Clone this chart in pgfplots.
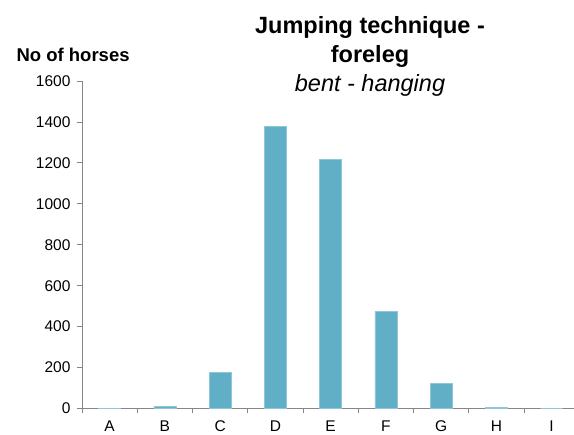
\documentclass[border=0pt]{standalone}
\usepackage{pgfplots}
\pgfplotsset{compat=1.18}
\usepackage{fontspec}
\setmainfont{Liberation Sans}
\definecolor{barcol}{RGB}{96,175,199}
\definecolor{axcol}{RGB}{134,134,134}
\begin{document}
\begin{tikzpicture}[x=1pt,y=1pt]
\begin{axis}[
  at={(82pt,26.5pt)}, anchor=south west,
  scale only axis, width=492pt, height=327.5pt,
  xmin=-0.5, xmax=8.405, ymin=0, ymax=1600,
  axis x line=bottom, axis y line=left,
  axis line style={-, draw=axcol, line width=0.8pt},
  tick style={draw=axcol, line width=0.8pt},
  tick align=outside, major tick length=5pt,
  ytick={0,200,...,1600},
  xtick={-0.5,0.5,...,7.5}, xticklabels={},
  extra x ticks={0,1,...,8},
  extra x tick labels={A,B,C,D,E,F,G,H,I},
  extra x tick style={major tick length=0pt, tick style={draw=none}},
  ticklabel style={font=\fontsize{15.5}{18}\selectfont},
  yticklabel style={xshift=-3pt},
  xticklabel style={yshift=-9pt},
  /pgf/number format/assume math mode=true,
  /pgf/number format/1000 sep={},
  ybar, bar width=22pt,
  clip=false,
]
\addplot[fill=barcol, draw=barcol!70!white, line width=0.6pt] coordinates {
  (0,2) (1,10) (2,175) (3,1380) (4,1215) (5,473) (6,122) (7,7) (8,0)};
\end{axis}
\node[anchor=base west, font=\fontsize{18.5}{22}\selectfont\bfseries] at (13,373) {No of horses};
\node[anchor=base, font=\fontsize{23.5}{28}\selectfont\bfseries] at (370,401) {Jumping technique -};
\node[anchor=base, font=\fontsize{23.5}{28}\selectfont\bfseries] at (370,372) {foreleg};
\node[anchor=base, font=\fontsize{23.5}{28}\selectfont\itshape] at (370,343) {bent - hanging};
\pgfresetboundingbox
\path[use as bounding box] (0,0) rectangle (574,435);
\end{tikzpicture}
\end{document}
